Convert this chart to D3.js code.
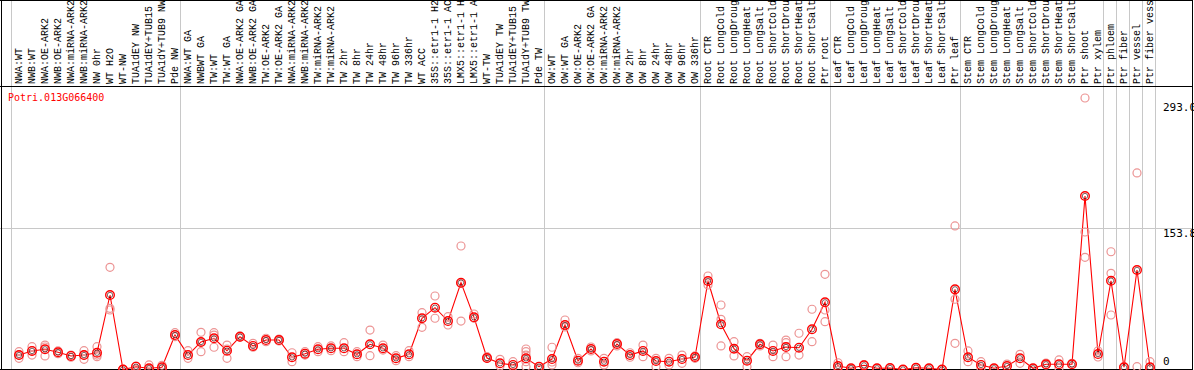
<!DOCTYPE html>
<html>
<head>
<meta charset="utf-8">
<script src="https://cdn.jsdelivr.net/npm/d3@7"></script>
<style>
  html, body { margin: 0; padding: 0; background: #fff; }
  svg { display: block; }
</style>
</head>
<body>
<div id="chart"></div>
<script>
const geneName = "Potri.013G066400";

const categories = [
  "NWA:WT","NWB:WT","NWA:OE-ARK2","NWB:OE-ARK2","NWA:miRNA-ARK2","NWB:miRNA-ARK2","NW 0hr","WT H2O","WT-NW","TUA1dEY NW","TUA1dEY+TUB15 NW","TUA1dY+TUB9 NW","Pde NW",
  "NWA:WT GA","NWBWT GA","TW:WT","TW:WT GA","NWA:OE-ARK2 GA","NWB:OE-ARK2 GA","TW:OE-ARK2","TW:OE-ARK2 GA","NWA:miRNA-ARK2","NWB:miRNA-ARK2","TW:miRNA-ARK2","TW:miRNA-ARK2","TW 2hr","TW 8hr","TW 24hr","TW 48hr","TW 96hr","TW 336hr","WT ACC","35S::etr1-1 H2O","35S::etr1-1 ACC","LMX5::etr1-1 H2O","LMX5::etr1-1 ACC","WT-TW","TUA1dEY TW","TUA1dEY+TUB15 TW","TUA1dY+TUB9 TW","Pde TW",
  "OW:WT","OW:WT GA","OW:OE-ARK2","OW:OE-ARK2 GA","OW:miRNA-ARK2","OW:miRNA-ARK2","OW 2hr","OW 8hr","OW 24hr","OW 48hr","OW 96hr","OW 336hr",
  "Root CTR","Root LongCold","Root LongDrought","Root LongHeat","Root LongSalt","Root ShortCold","Root ShortDrought","Root ShortHeat","Root ShortSalt","Ptr root",
  "Leaf CTR","Leaf LongCold","Leaf LongDrought","Leaf LongHeat","Leaf LongSalt","Leaf ShortCold","Leaf ShortDrought","Leaf ShortHeat","Leaf ShortSalt","Ptr leaf",
  "Stem CTR","Stem LongCold","Stem LongDrought","Stem LongHeat","Stem LongSalt","Stem ShortCold","Stem ShortDrought","Stem ShortHeat","Stem ShortSalt","Ptr shoot","Ptr xylem",
  "Ptr phloem","Ptr fiber","Ptr vessel","Ptr fiber vessel"
];

// number of columns in each separated group (left to right)
const groupSizes = [13, 28, 12, 10, 10, 11, 1, 1, 1, 1];

// mean expression per column
const means = [
  15.6,20.0,21.8,18.6,14.6,15.6,18.1,80.4,0,3.0,1.3,2.4,37.2,
  15.6,29.7,33.7,20.3,35.4,25.4,31.8,31.8,13.2,17.1,21.8,22.9,22.9,16.4,27.2,22.9,12.1,16.4,55.3,66.7,52.3,93.7,56.3,12.4,6.7,4.9,12.1,3.0,
  11.3,48.0,9.5,22.1,8.4,27.5,15.6,20.0,9.2,8.4,11.3,13.5,
  95.5,48.8,22.4,9.5,27.2,20.0,24.3,23.5,43.4,72.5,
  3.8,1.3,4.5,1.3,1.6,0,1.9,1.3,0,86.5,
  13.2,4.9,1.3,3.8,12.1,1.3,5.6,5.6,5.6,187.2,16.7,
  95.8,2.4,107.4,2.4
];

// replicate values per column
const replicates = [
  [19.2,12.1,15.6],[24.6,15.6,20.0],[26.4,14.6,24.3],[20.0,17.1],[15.6,13.2],[20.3,11.0,15.6],[24.6,15.6,13.8],[110.3,66.0,64.2],[0,0.5],[3.8,0.5],[4.9,0.5],[4.5,0.5],[39.7,35.4],
  [20.3,12.1],[40.1,19.2,29.7],[39.7,24.0,37.2],[26.4,12.1,22.1],[36.2,34.7],[28.3,24.0],[33.7,30.0],[32.9,30.8],[18.1,8.4],[19.2,15.6],[24.6,19.2],[25.4,20.3],[28.9,19.2],[19.2,13.8],[42.6,14.9],[26.4,21.0],[14.9,9.5],[20.3,13.8],[61.3,45.5],[79.3,55.3],[57.0,48.0],[133.3,93.0,52.3],[59.9,55.3],[13.8,12.1],[11.0,3.8],[8.4,3.0],[22.1,19.2,15.6,8.4,3.0],[3.0,0.5],
  [24.0,4.9,8.1],[53.4,45.9],[12.1,7.3],[24.3,20.0],[12.1,4.9],[28.9,25.4],[18.1,13.2],[26.4,13.8],[12.1,3.0],[12.1,4.9],[15.6,6.7],[14.6,12.1],
  [100.9,91.2],[69.6,54.2,25.4],[30.0,14.6],[13.8,3.0],[28.3,25.4],[26.4,13.8],[31.8,28.9,13.8],[39.1,15.6],[65.0,30.0],[102.7,64.2,51.6],
  [7.3,1.6],[0.5],[5.4],[1.3],[1.6],[0],[1.9],[1.3],[0],[154.9,75.8,28.3],
  [20.0,8.4],[8.4,1.6],[1.3],[5.9],[16.4,6.7],[1.3],[4.9,7.0],[10.3,1.6],[6.7],[293.0,148.4,121.1],[20.0,13.5],
  [127.1,103.8,58.8],[3.0],[212.1,3.0],[8.4,0.5]
];

const axisTicks = [0, 153.8, 293.0];
const gridTicks = [153.8];

const W = 1194, H = 370;
const svg = d3.select("#chart").append("svg")
  .attr("width", W).attr("height", H)
  .style("font-family", "'DejaVu Sans Mono', monospace");

const x = d3.scalePoint().domain(d3.range(categories.length)).range([19, 1150]);
const y = d3.scaleLinear().domain([0, 293]).range([369.5, 98]);

// group separator lines
const sepX = [x(0) - 8];
let acc = 0;
groupSizes.forEach(s => { acc += s; sepX.push(x(acc - 1) + 5); });
svg.append("g").selectAll("line").data(sepX).join("line")
  .attr("x1", d => Math.round(d) + 0.5).attr("x2", d => Math.round(d) + 0.5)
  .attr("y1", 0).attr("y2", H)
  .attr("stroke", "#c8c8c8").attr("stroke-width", 1);

// horizontal grid line
svg.append("g").selectAll("line").data(gridTicks).join("line")
  .attr("x1", 0).attr("x2", 1192)
  .attr("y1", d => Math.round(y(d)) + 1.5).attr("y2", d => Math.round(y(d)) + 1.5)
  .attr("stroke", "#c8c8c8").attr("stroke-width", 1);

// frame
svg.append("line").attr("x1", 0).attr("x2", 1192).attr("y1", 0.5).attr("y2", 0.5).attr("stroke", "#000");
svg.append("line").attr("x1", 0).attr("x2", 1192).attr("y1", 86.5).attr("y2", 86.5).attr("stroke", "#000");
svg.append("line").attr("x1", 0).attr("x2", 1192).attr("y1", 369.5).attr("y2", 369.5).attr("stroke", "#000");
svg.append("line").attr("x1", 1.5).attr("x2", 1.5).attr("y1", 0).attr("y2", H).attr("stroke", "#000");
svg.append("line").attr("x1", 1192.5).attr("x2", 1192.5).attr("y1", 0).attr("y2", H).attr("stroke", "#000");

// column labels (rotated)
svg.append("g").selectAll("text").data(categories).join("text")
  .attr("transform", (d, i) => `translate(${x(i) + 2.5},84) rotate(-90)`)
  .attr("font-family", "'Liberation Mono', monospace")
  .attr("font-size", 10)
  .attr("fill", "#000")
  .text(d => d);

// gene name
svg.append("text").attr("x", 8).attr("y", 101)
  .attr("font-size", 10).attr("fill", "#ff0000").text(geneName);

// right axis labels
const maxTick = d3.max(axisTicks);
svg.append("g").selectAll("text").data(axisTicks).join("text")
  .attr("x", 1163)
  .attr("y", d => d === 0 ? 365 : y(d) + (d === maxTick ? 12.8 : 9.7))
  .attr("font-size", 11).attr("fill", "#000")
  .text(d => d === 0 ? "0" : d.toFixed(1));

const plot = svg.append("g");

// mean line
plot.append("path")
  .datum(means)
  .attr("d", d3.line().x((d, i) => x(i)).y(d => y(d)))
  .attr("fill", "none").attr("stroke", "#ff0000").attr("stroke-width", 1.1);

// replicate circles
const repPts = [];
replicates.forEach((arr, i) => arr.forEach(v => repPts.push({ i, v })));
plot.append("g").selectAll("circle").data(repPts).join("circle")
  .attr("cx", d => x(d.i)).attr("cy", d => y(d.v)).attr("r", 4)
  .attr("fill", "none").attr("stroke", "#ec9494").attr("stroke-width", 1.2);

// mean markers
const mg = plot.append("g").selectAll("g").data(means).join("g")
  .attr("transform", (d, i) => `translate(${x(i)},${y(d)})`);
mg.append("circle").attr("r", 4.3).attr("fill", "none").attr("stroke", "#ff0000").attr("stroke-width", 1.4);
mg.append("circle").attr("r", 2.7).attr("fill", "none").attr("stroke", "#300").attr("stroke-width", 0.6);
</script>
</body>
</html>
